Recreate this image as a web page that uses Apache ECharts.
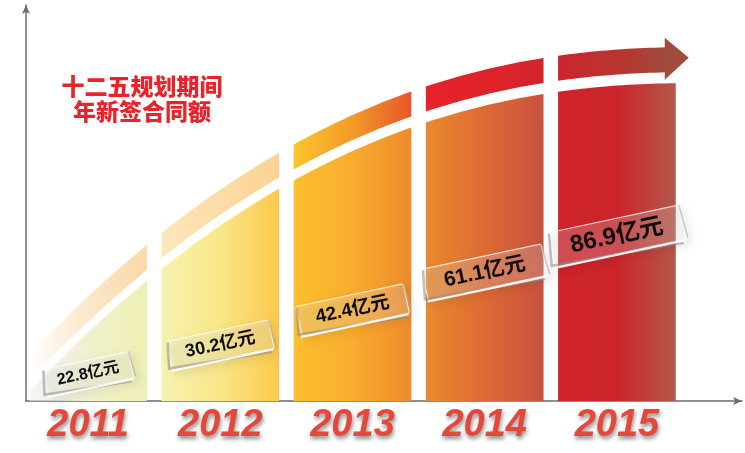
<!DOCTYPE html>
<html>
<head>
<meta charset="utf-8">
<script src="https://cdn.jsdelivr.net/npm/echarts@6/dist/echarts.min.js"></script>
<style>html,body{margin:0;padding:0;background:#fff;}#chart{width:745px;height:453px;}</style>
</head>
<body>
<div id="chart"></div>
<script>
// ---- data ----
const categories = ['2011', '2012', '2013', '2014', '2015'];
const contractValues = [22.8, 30.2, 42.4, 61.1, 86.9];
const valueUnit = '亿元';
const titleLines = ['十二五规划期间', '年新签合同额'];

// ---- styles ----
const barStops = [
  [[0, 'rgba(236,236,232,0.5)'], [0.45, '#f1f0d2'], [1, '#eff0b4']],
  [[0, '#f6f3b0'], [0.5, '#f8e688'], [1, '#fcc84c']],
  [[0, '#fdbf2f'], [0.5, '#f8ad2e'], [1, '#ee8a2c']],
  [[0, '#ea8a2f'], [0.5, '#dd6a34'], [1, '#c9513f']],
  [[0, '#d0232a'], [0.5, '#cb252b'], [1, '#b3584a']]
];
const bandStops = [
  [[0, 'rgba(250,215,160,0)'], [0.5, 'rgba(250,215,165,0.6)'], [1, '#f9d8a6']],
  [[0, '#fde6bb'], [1, '#fbd293']],
  [[0, '#fcc52b'], [0.5, '#f39a2a'], [1, '#e8552b']],
  [[0, '#e8222a'], [1, '#d3242a']],
  [[0, '#cc252b'], [0.6, '#b7362f'], [1, '#9f4a3d']]
];
const boxWidths = [88, 104, 110, 122, 134];
const boxHeights = [27, 29, 30, 32, 35];
const fontSizes = [16, 18, 19, 21, 24];

function grad(stops, x2, y2, y1) {
  return new echarts.graphic.LinearGradient(0, y1 || 0, x2, y2 || 0,
    stops.map(s => ({ offset: s[0], color: s[1] })));
}

function renderItem(params, api) {
  const i = params.dataIndex;
  const cs = params.coordSys;
  const c = api.coord([api.value(0), api.value(1)]);
  const band = api.size([1, 0])[0];
  const half = band * 0.445;
  const x0 = c[0] - half, x1 = c[0] + half;
  const bottom = cs.y + cs.height;
  const cx0 = cs.x - 2, cw = cs.width * 1.03, ch = cs.height * 0.803;
  const topY = x => {
    let t = (x - cx0) / cw;
    t = Math.min(Math.max(t, 0), 1);
    return bottom - ch * (1 - Math.pow(1 - t, 2.3));
  };
  const N = 20;
  const barPts = [[x0, bottom]];
  for (let k = 0; k <= N; k++) {
    const x = x0 + (x1 - x0) * k / N;
    barPts.push([x, topY(x)]);
  }
  barPts.push([x1, bottom]);

  const isLast = i === categories.length - 1;
  const bx1 = isLast ? x1 - 10 : x1;
  const upper = [], lower = [];
  for (let k = 0; k <= N; k++) {
    const x = x0 + (bx1 - x0) * k / N;
    const ty = topY(x);
    upper.push([x, ty - 36]);
    lower.push([x, ty - 11]);
  }
  const bandPts = upper.concat(lower.reverse());

  const children = [
    { type: 'polygon', shape: { points: barPts }, style: { fill: grad(barStops[i], 1, 0) } },
    { type: 'polygon', shape: { points: bandPts }, style: { fill: grad(bandStops[i], 1, 0) } }
  ];
  if (isLast) {
    const my = topY(bx1) - 23.5;
    children.push({
      type: 'polygon',
      shape: { points: [[bx1 - 1, my - 22], [bx1 + 23, my - 2], [bx1 - 1, my + 20]] },
      style: { fill: '#a14b3e' }
    });
  }
  const w = boxWidths[i], h = boxHeights[i];
  children.push({
    type: 'group', x: c[0], y: c[1], rotation: 0.21,
    children: [
      { type: 'rect', shape: { x: -w / 2, y: -h / 2, width: w, height: h, r: 2 },
        style: { fill: 'rgba(255,255,255,0.2)', stroke: 'rgba(255,255,255,0.75)', lineWidth: 1.2,
          shadowColor: 'rgba(0,0,0,0.28)', shadowBlur: 9, shadowOffsetX: 4, shadowOffsetY: 4 } },
      { type: 'polyline', shape: { points: [[-w / 2 + 1, -h / 2 + 1], [-w / 2 - 3, h / 2 - 2], [w / 2 - 3, h / 2 + 3]] },
        style: { stroke: 'rgba(140,140,140,0.55)', lineWidth: 2.5, fill: null } },
      { type: 'line', shape: { x1: -w / 2 - 1, y1: h / 2 + 1, x2: w / 2 - 1, y2: h / 2 + 1 },
        style: { stroke: 'rgba(255,255,255,0.9)', lineWidth: 2 } },
      { type: 'line', shape: { x1: w / 2, y1: -h / 2, x2: w / 2 + 2, y2: h / 2 - 1 },
        style: { stroke: 'rgba(170,170,170,0.6)', lineWidth: 1.5 } },
      { type: 'text', style: { text: api.value(1) + valueUnit, x: 0, y: 0,
          align: 'center', verticalAlign: 'middle', textAlign: 'center', textVerticalAlign: 'middle',
          font: 'bold ' + fontSizes[i] + 'px "Liberation Sans", "Noto Sans CJK SC", sans-serif',
          fill: '#0d0d0d' } }
    ]
  });
  return { type: 'group', children };
}

const chart = echarts.init(document.getElementById('chart'), null, { renderer: 'canvas' });
chart.setOption({
  animation: false,
  backgroundColor: '#fff',
  grid: [
    { left: 22, right: 62, top: 5, bottom: 52 },
    { left: 26, right: 3, top: 5, bottom: 52 }
  ],
  xAxis: [
    { type: 'category', gridIndex: 0, data: categories,
      axisLine: { show: false }, axisTick: { show: false },
      axisLabel: { margin: 6, fontSize: 38, fontStyle: 'italic', fontWeight: 'bold',
        fontFamily: '"Liberation Sans Narrow", "Liberation Sans", sans-serif', color: '#e5483a',
        textShadowColor: 'rgba(0,0,0,0.45)', textShadowBlur: 4, textShadowOffsetX: 1, textShadowOffsetY: 3 } },
    { type: 'value', gridIndex: 1, min: 0, max: 1,
      axisLine: { show: true, symbol: ['none', 'arrow'], symbolSize: [6, 9], lineStyle: { color: '#6b6b6b', width: 1.5 } },
      axisTick: { show: false }, axisLabel: { show: false }, splitLine: { show: false } }
  ],
  yAxis: [
    { type: 'log', gridIndex: 0, logBase: 10, min: 17.5, max: 820, show: false },
    { type: 'value', gridIndex: 1, min: 0, max: 1,
      axisLine: { show: true, symbol: ['none', 'arrow'], symbolSize: [6, 9], lineStyle: { color: '#6b6b6b', width: 1.5 } },
      axisTick: { show: false }, axisLabel: { show: false }, splitLine: { show: false } }
  ],
  graphic: [
    { type: 'text', x: 142, y: 86, z: 10,
      style: { text: titleLines[0], align: 'center', verticalAlign: 'middle', textAlign: 'center', textVerticalAlign: 'middle',
        font: '900 23px "Noto Sans CJK SC", sans-serif', fill: '#e8232a',
        shadowColor: 'rgba(0,0,0,0.45)', shadowBlur: 3, shadowOffsetX: 2, shadowOffsetY: 3 } },
    { type: 'text', x: 142, y: 111, z: 10,
      style: { text: titleLines[1], align: 'center', verticalAlign: 'middle', textAlign: 'center', textVerticalAlign: 'middle',
        font: '900 23px "Noto Sans CJK SC", sans-serif', fill: '#e8232a',
        shadowColor: 'rgba(0,0,0,0.45)', shadowBlur: 3, shadowOffsetX: 2, shadowOffsetY: 3 } }
  ],
  series: [{
    type: 'custom', xAxisIndex: 0, yAxisIndex: 0,
    renderItem: renderItem,
    encode: { x: 0, y: 1 },
    data: categories.map((c, i) => [i, contractValues[i]])
  }]
});
</script>
</body>
</html>
